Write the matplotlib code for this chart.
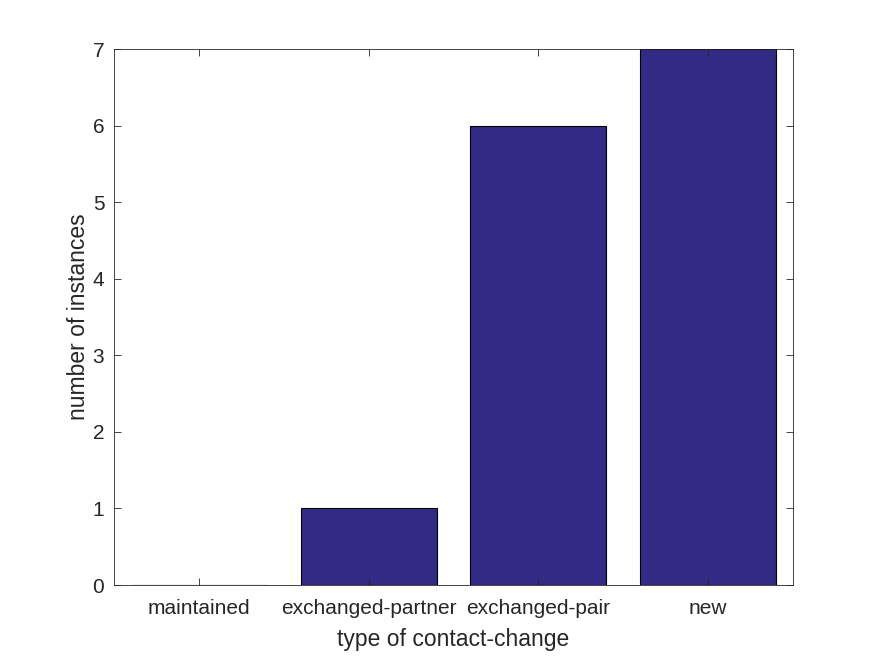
import matplotlib
matplotlib.use('Agg')
import matplotlib.pyplot as plt

plt.rcParams['font.family'] = ['Liberation Sans', 'DejaVu Sans']

categories = ['maintained', 'exchanged-partner', 'exchanged-pair', 'new']
counts = [0, 1, 6, 7]

fig = plt.figure(figsize=(8.75, 6.56), dpi=100)
ax = fig.add_axes([0.1303, 0.1082, 0.776, 0.817])

x = list(range(1, len(categories) + 1))
ax.bar(x, counts, width=0.8, color='#332a86', edgecolor='black', linewidth=0.8)

ax.set_xlim(0.5, 4.5)
ax.set_ylim(0, 7)
ax.set_xticks(x)
ax.set_xticklabels(categories)
ax.set_yticks(range(0, 8))

ax.tick_params(direction='in', top=True, right=True, length=5, width=0.6,
               labelsize=15, colors='#262626', pad=7)
ax.tick_params(axis='x', pad=10)
for sp in ax.spines.values():
    sp.set_linewidth(0.6)
    sp.set_color('#262626')

ax.set_xlabel('type of contact-change', fontsize=16.5, color='#262626', labelpad=7)
ax.set_ylabel('number of instances', fontsize=16.5, color='#262626', labelpad=2)

fig.savefig('out.png', dpi=100, facecolor='white')
